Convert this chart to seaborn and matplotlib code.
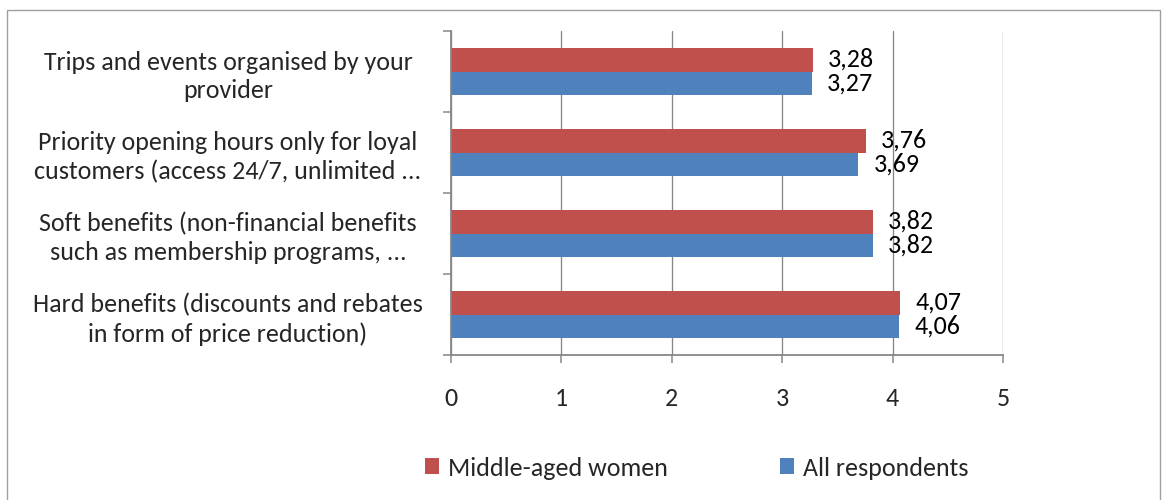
import matplotlib
matplotlib.use("Agg")
import matplotlib.pyplot as plt
from matplotlib import font_manager
from matplotlib.patches import Rectangle, Patch
import seaborn as sns
import pandas as pd

# Survey items (top to bottom) and mean scores per group
categories = [
    "Trips and events organised by your\nprovider",
    "Priority opening hours only for loyal\ncustomers (access 24/7, unlimited ...",
    "Soft benefits (non-financial benefits\nsuch as membership programs, ...",
    "Hard benefits (discounts and rebates\nin form of price reduction)",
]
middle_aged_women = [3.28, 3.76, 3.82, 4.07]
all_respondents = [3.27, 3.69, 3.82, 4.06]
series_names = ["Middle-aged women", "All respondents"]
x_ticks = [0, 1, 2, 3, 4, 5]

RED = "#C0504D"
BLUE = "#4F81BD"
AXIS_GRAY = "#868686"

sns.set_theme(style="white")
installed = {f.name for f in font_manager.fontManager.ttflist}
family = [f for f in ["Carlito", "Liberation Sans Narrow", "Lato", "DejaVu Sans"] if f in installed]
plt.rcParams["font.family"] = family

DPI = 100
W, H = 1163, 500
px = 72.0 / DPI  # points per pixel
FS = 26 * px

df = pd.DataFrame({
    "item": categories * 2,
    "score": middle_aged_women + all_respondents,
    "group": [series_names[0]] * 4 + [series_names[1]] * 4,
})

fig = plt.figure(figsize=(W / DPI, H / DPI), dpi=DPI)
ax = fig.add_axes([451 / W, 1 - 355 / H, (1003 - 451) / W, (355 - 31) / H])

sns.barplot(
    data=df, x="score", y="item", hue="group", hue_order=series_names,
    order=categories, palette=[RED, BLUE], orient="h", width=0.59,
    saturation=1, ax=ax, legend=False, errorbar=None, linewidth=0,
)

# value labels with decimal comma
for cont in ax.containers:
    vals = cont.datavalues
    ax.bar_label(cont, labels=[f"{v:.2f}".replace(".", ",") for v in vals],
                 padding=15 * px, fontsize=FS, color="black")

ax.set_xlim(0, 5)
ax.set_ylim(3.5, -0.5)
ax.set_xticks(x_ticks)
ax.set_xticklabels([str(t) for t in x_ticks], fontsize=FS)
ax.set_xlabel("")
ax.set_ylabel("")

# category ticks at the band boundaries, labels at band centres
ax.set_yticks([-0.5, 0.5, 1.5, 2.5, 3.5])
ax.set_yticklabels([])
ax.set_yticks(range(len(categories)), minor=True)
ax.set_yticklabels(categories, minor=True, fontsize=FS, ha="center",
                   multialignment="center", linespacing=1.3)
ax.tick_params(axis="y", which="major", length=8 * px, width=1.5 * px,
               color=AXIS_GRAY, direction="out", left=True)
ax.tick_params(axis="y", which="minor", length=0, pad=(451 - 228) * px)
ax.tick_params(axis="x", which="major", length=8 * px, width=1.5 * px,
               color=AXIS_GRAY, direction="out", bottom=True, pad=24 * px)

# vertical gridlines
ax.grid(axis="x", color=AXIS_GRAY, linewidth=1.3 * px)
ax.grid(axis="y", visible=False)
ax.set_axisbelow(True)
for side in ["top", "right"]:
    ax.spines[side].set_visible(False)
for side in ["left", "bottom"]:
    ax.spines[side].set_color(AXIS_GRAY)
    ax.spines[side].set_linewidth(1.8 * px)

# legend below the plot
handles = [Patch(facecolor=RED, edgecolor="none"), Patch(facecolor=BLUE, edgecolor="none")]
fig.legend(handles, series_names, loc="center left",
           bbox_to_anchor=(425 / W, 1 - 468 / H), ncol=2, frameon=False,
           fontsize=FS, handlelength=0.55, handleheight=0.55, handletextpad=0.35,
           columnspacing=4.3, borderaxespad=0, borderpad=0)

# chart frame
fig.add_artist(Rectangle((7 / W, -0.1), (1160 - 7) / W, 1 - 10 / H + 0.1,
                         transform=fig.transFigure, fill=False,
                         edgecolor="#A0A0A0", linewidth=1.4 * px))

fig.savefig("out.png", dpi=DPI)
